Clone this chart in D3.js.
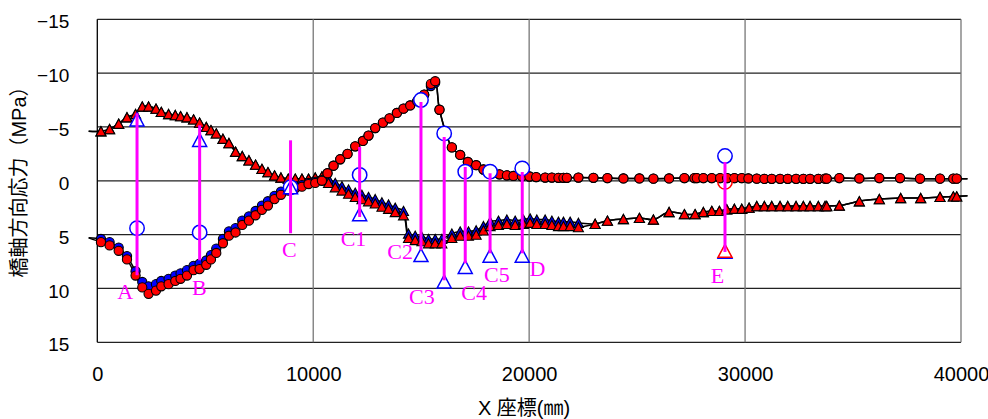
<!DOCTYPE html>
<html>
<head>
<meta charset="utf-8">
<script src="https://cdn.jsdelivr.net/npm/d3@7"></script>
<style>
  body { margin: 0; background: #fff; }
  svg { display: block; }
</style>
</head>
<body>
<svg id="chart"></svg>
<script>
// axis ticks
const xTicks = [0, 10000, 20000, 30000, 40000];
const yTicks = [-15, -10, -5, 0, 5, 10, 15];

// analysis points, circle series (X in mm, stress in MPa)
const circleX = [170, 570, 990, 1375, 1773, 2083, 2375, 2718, 2963, 3301, 3611, 3856, 4153, 4458, 4736, 5046, 5264, 5509, 5819, 6097, 6403, 6713, 7023, 7329, 7625, 7903, 8208, 8505,
  8843, 9167, 9477, 9782, 10093, 10403,
  10662, 10940, 11250, 11588, 11944, 12301, 12560, 12870, 13227, 13532, 13875, 14181, 14491, 14815, 15139, 15449, 15648, 15847,
  16421, 16806, 17162, 17546, 17884, 18319, 18625, 18968, 19273, 19662,
  20014, 20324, 20741, 21051, 21356, 21588, 21745, 22282, 22977,
  23625, 24366, 25106, 25755, 26481, 27190, 27653, 27764, 28069, 28458, 28843, 29170,
  29505, 29847, 30153, 30542, 30894, 31236, 31620, 31977, 32361, 32699, 33009, 33394, 33704, 33782,
  34366, 35292, 36218, 37176, 38102, 39028, 39644, 39801];
const circleRed = [5.7, 6.0, 6.5, 7.3, 8.8, 9.9, 10.5, 10.2, 9.8, 9.6, 9.3, 9.1, 8.8, 8.3, 8.2, 7.8, 7.3, 6.7, 5.8, 5.1, 4.8, 4.1, 3.7, 3.2, 2.7, 2.3, 1.7, 1.3,
  0.9, 0.7, 0.55, 0.3, 0.2, 0.0,
  -0.7, -1.4, -2.0, -2.5, -3.2, -3.7, -4.2, -4.9, -5.4, -5.8, -6.3, -6.7, -7.0, -7.4, -8.0, -9.0, -9.25, -6.6,
  -3.1, -2.4, -1.75, -1.45, -1.05, -0.72, -0.6, -0.5, -0.45, -0.42,
  -0.4, -0.35, -0.3, -0.3, -0.28, -0.28, -0.28, -0.3, -0.28,
  -0.25, -0.22, -0.22, -0.2, -0.22, -0.25, -0.25, -0.25, -0.25, -0.25, -0.25, -0.25,
  -0.25, -0.25, -0.22, -0.2, -0.18, -0.18, -0.18, -0.18, -0.18, -0.18, -0.18, -0.18, -0.2, -0.2,
  -0.25, -0.22, -0.25, -0.25, -0.2, -0.2, -0.2, -0.2];
const circleBlue = [5.4, 5.7, 6.2, 7.0, 8.4, 9.4, 9.8, 9.6, 9.3, 9.1, 8.8, 8.6, 8.3, 7.9, 7.7, 7.4, 6.9, 6.3, 5.4, 4.7, 4.4, 3.7, 3.3, 2.8, 2.3, 1.9, 1.4, 1.0,
  0.7, 0.5, 0.4, 0.2, 0.1, -0.05,
  -0.7, -1.4, -2.0, -2.5, -3.2, -3.7, -4.2, -4.9, -5.4, -5.8, -6.3, -6.7, -7.0, -7.4, -8.0, -8.8, -9.1, -6.6,
  -3.1, -2.4, -1.75, -1.45, -1.05, -0.72, -0.6, -0.5, -0.45, -0.42,
  -0.4, -0.35, -0.3, -0.3, -0.28, -0.28, -0.28, -0.3, -0.28,
  -0.25, -0.22, -0.22, -0.2, -0.22, -0.25, -0.25, -0.25, -0.25, -0.25, -0.25, -0.25,
  -0.25, -0.25, -0.22, -0.2, -0.18, -0.18, -0.18, -0.18, -0.18, -0.18, -0.18, -0.18, -0.2, -0.2,
  -0.25, -0.22, -0.25, -0.25, -0.2, -0.2, -0.2, -0.2];

// analysis points, triangle series
const triX = [170, 570, 990, 1375, 1773, 2083, 2375, 2718, 2963, 3301, 3611, 3856, 4153, 4458, 4736, 5046, 5264, 5509, 5819, 6097, 6403, 6713, 7023, 7329, 7625, 7903, 8208, 8505, 8843, 9167, 9477, 9782, 10093, 10403,
  10708, 11019, 11329, 11634, 11944, 12255, 12560, 12870, 13181, 13486, 13796, 14181, 14412, 14722, 15032, 15338, 15648, 15958,
  16421, 16806, 17190, 17546, 17884, 18194, 18579, 18968, 19352, 19736,
  20046, 20356, 20741, 21051, 21356, 21588, 21898, 22282, 23056,
  23625, 24366, 25106, 25755, 26481, 27190, 27685, 28069, 28458, 28810, 29153, 29505, 29847, 30185, 30542,
  30894, 31236, 31620, 31977, 32361, 32699, 33009, 33394, 33704, 33782,
  34366, 35292, 36218, 37208, 38134, 39028, 39644, 39801];
const triRed = [-4.6, -4.8, -5.3, -5.9, -6.2, -6.9, -6.9, -6.7, -6.4, -6.2, -6.1, -6.0, -5.9, -5.7, -5.4, -5.0, -4.7, -4.4, -3.9, -3.5, -2.7, -2.3, -1.9, -1.5, -1.1, -0.8, -0.5, -0.3, -0.2, -0.2, -0.2, -0.2, -0.3, -0.4,
  0.2, 0.6, 0.9, 1.2, 1.5, 1.7, 1.9, 2.1, 2.4, 2.6, 2.9, 3.2, 5.3, 5.5, 5.6, 5.8, 5.8, 5.8,
  5.3, 5.1, 5.1, 5.0, 4.6, 4.2, 4.1, 4.0, 4.1, 4.0,
  3.9, 4.0, 4.0, 4.1, 4.2, 4.2, 4.2, 4.3, 4.0,
  3.7, 3.55, 3.45, 3.6, 2.9, 3.1, 3.1, 2.9, 2.8, 2.8, 2.65, 2.6, 2.6, 2.5, 2.35,
  2.35, 2.35, 2.35, 2.35, 2.35, 2.35, 2.35, 2.35, 2.35, 2.35,
  2.3, 1.9, 1.7, 1.6, 1.6, 1.5, 1.45, 1.45];
const triBlue = [-4.6, -4.8, -5.3, -5.9, -6.2, -6.9, -6.9, -6.7, -6.4, -6.2, -6.1, -6.0, -5.9, -5.7, -5.4, -5.0, -4.7, -4.4, -3.9, -3.5, -2.7, -2.3, -1.9, -1.5, -1.1, -0.8, -0.5, -0.3, -0.2, -0.2, -0.2, -0.2, -0.3, -0.4,
  -0.2, 0.2, 0.5, 0.8, 1.1, 1.3, 1.5, 1.7, 2.0, 2.2, 2.5, 2.8, 4.9, 5.1, 5.2, 5.4, 5.4, 5.4,
  4.9, 4.7, 4.7, 4.6, 4.2, 3.8, 3.7, 3.6, 3.7, 3.6,
  3.5, 3.6, 3.6, 3.7, 3.8, 3.8, 3.8, 3.9, 4.0,
  3.7, 3.55, 3.45, 3.6, 2.9, 3.1, 3.1, 2.9, 2.8, 2.8, 2.65, 2.6, 2.6, 2.5, 2.35,
  2.35, 2.35, 2.35, 2.35, 2.35, 2.35, 2.35, 2.35, 2.35, 2.35,
  2.3, 1.9, 1.7, 1.6, 1.6, 1.5, 1.45, 1.45];

// curve run-out beyond the first and last points
const circleLineEnds = [[-400, 5.3], [40300, -0.2]];
const triLineEnds = [[-400, -4.6], [40300, 1.4]];

// measured sections
const measLabels = ["A", "B", "C", "C1", "C2", "C3", "C4", "C5", "D", "E"];
const measX = [1840, 4740, 8950, 12150, 14990, 16065, 17040, 18190, 19680, 29070];
const measCircleBlue = [4.4, 4.8, 0.6, -0.55, -7.5, -4.4, -0.85, -0.85, -1.15, -2.3];
const measTriBlue = [-5.7, -3.8, 0.6, 3.1, 6.9, 9.35, 8.0, 6.95, 6.95, 6.6];
const measERed = { x: 29070, circle: 0.1, tri: 6.6 };
const rangeTop = [-6.27, -5.15, -3.76, -3.14, -7.32, -4.07, -1.28, -0.70, -0.82, -1.75];
const rangeBottom = [8.77, 7.38, 4.87, 3.36, 6.45, 9.24, 7.66, 6.73, 6.73, 6.61];
const labelX = [1296, 4722, 8889, 11866, 14028, 15032, 17454, 18505, 20384, 28718];
const labelY = [10.26, 9.89, 6.36, 5.37, 6.61, 10.79, 10.33, 8.68, 8.15, 8.77];

const width = 988;
const height = 419;

const svg = d3.select("#chart")
  .attr("width", width)
  .attr("height", height)
  .attr("viewBox", `0 0 ${width} ${height}`);

svg.append("rect").attr("width", width).attr("height", height).attr("fill", "#fff");

const xScale = d3.scaleLinear().domain([0, 40000]).range([97.3, 961]);
const yScale = d3.scaleLinear().domain([-15, 15]).range([19.3, 342.3]);

// grid
svg.append("g")
  .selectAll("line")
  .data(yTicks)
  .enter()
  .append("line")
  .attr("x1", xScale(0))
  .attr("x2", xScale(40000))
  .attr("y1", (d) => yScale(d))
  .attr("y2", (d) => yScale(d))
  .style("stroke", "#222")
  .style("stroke-width", 1.2);

svg.append("g")
  .selectAll("line")
  .data(xTicks.slice(1))
  .enter()
  .append("line")
  .attr("x1", (d) => xScale(d))
  .attr("x2", (d) => xScale(d))
  .attr("y1", yScale(-15))
  .attr("y2", yScale(15))
  .style("stroke", "#777")
  .style("stroke-width", 1.3);

svg.append("line")
  .attr("x1", xScale(0))
  .attr("x2", xScale(0))
  .attr("y1", yScale(-15))
  .attr("y2", yScale(15))
  .style("stroke", "#000")
  .style("stroke-width", 1.3);

// axes labels
const yAxis = d3.axisLeft(yScale).tickValues(yTicks).tickSize(0).tickPadding(28);
svg.append("g")
  .attr("transform", `translate(${xScale(0)}, 0)`)
  .call(yAxis)
  .call((g) => g.select(".domain").remove())
  .selectAll("text")
  .attr("dy", "0.45em")
  .style("font-family", "'Liberation Sans', Arial, sans-serif")
  .style("font-size", "19px")
  .style("fill", "#000");

const xAxis = d3.axisBottom(xScale).tickValues(xTicks).tickSize(0).tickPadding(25).tickFormat(d3.format("d"));
svg.append("g")
  .attr("transform", `translate(0, ${yScale(15)})`)
  .call(xAxis)
  .call((g) => g.select(".domain").remove())
  .selectAll("text")
  .style("font-family", "'Liberation Sans', Arial, sans-serif")
  .style("font-size", "20px")
  .style("fill", "#000");

svg.append("text")
  .attr("transform", "translate(19, 177) rotate(-90)")
  .attr("text-anchor", "middle")
  .attr("dominant-baseline", "central")
  .style("font-family", "'Liberation Sans', 'Noto Sans CJK JP', sans-serif")
  .style("font-size", "20px")
  .text("橋軸方向応力（MPa）");

svg.append("text")
  .attr("x", 524)
  .attr("y", 408)
  .attr("text-anchor", "middle")
  .attr("dominant-baseline", "central")
  .style("font-family", "'Liberation Sans', 'Noto Sans CJK JP', sans-serif")
  .style("font-size", "20px")
  .text("X 座標(㎜)");

// analysis curves
const line = d3.line()
  .x((d) => xScale(d[0]))
  .y((d) => yScale(d[1]))
  .curve(d3.curveCatmullRom.alpha(0.5));

const toPoints = (xs, vs) => xs.map((v, i) => [v, vs[i]]);
const withEnds = (pts, ends) => [ends[0], ...pts, ends[1]];

const triBluePts = toPoints(triX, triBlue);
const triRedPts = toPoints(triX, triRed);
const circleBluePts = toPoints(circleX, circleBlue);
const circleRedPts = toPoints(circleX, circleRed);

[
  withEnds(triBluePts, triLineEnds),
  withEnds(triRedPts, triLineEnds),
  withEnds(circleBluePts, circleLineEnds),
  withEnds(circleRedPts, circleLineEnds),
].forEach((pts) => {
  svg.append("path")
    .attr("d", line(pts))
    .style("fill", "none")
    .style("stroke", "#000")
    .style("stroke-width", 1.5);
});

const triPath = (cx, cy, w, h) =>
  `M${cx},${cy - h}L${cx + w},${cy + h}L${cx - w},${cy + h}Z`;

const drawTriangles = (pts, fill) => {
  svg.append("g")
    .selectAll("path")
    .data(pts)
    .enter()
    .append("path")
    .attr("d", (d) => triPath(xScale(d[0]), yScale(d[1]), 5, 4.6))
    .style("fill", fill)
    .style("stroke", "#000")
    .style("stroke-width", 1.1);
};

const drawCircles = (pts, fill) => {
  svg.append("g")
    .selectAll("circle")
    .data(pts)
    .enter()
    .append("circle")
    .attr("cx", (d) => xScale(d[0]))
    .attr("cy", (d) => yScale(d[1]))
    .attr("r", 4.6)
    .style("fill", fill)
    .style("stroke", "#000")
    .style("stroke-width", 1.1);
};

drawTriangles(triBluePts, "#0000ff");
drawTriangles(triRedPts, "#ff0000");
drawCircles(circleBluePts, "#0000ff");
drawCircles(circleRedPts, "#ff0000");

// measured values
svg.append("g")
  .selectAll("circle")
  .data(measX)
  .enter()
  .append("circle")
  .attr("cx", (d) => xScale(d))
  .attr("cy", (d, i) => yScale(measCircleBlue[i]))
  .attr("r", 7.2)
  .style("fill", "#fff")
  .style("stroke", "#0000ff")
  .style("stroke-width", 1.5);

svg.append("g")
  .selectAll("path")
  .data(measX)
  .enter()
  .append("path")
  .attr("d", (d, i) => triPath(xScale(d), yScale(measTriBlue[i]), 7, 6.5))
  .style("fill", "#fff")
  .style("stroke", "#0000ff")
  .style("stroke-width", 1.5);

svg.append("circle")
  .attr("cx", xScale(measERed.x))
  .attr("cy", yScale(measERed.circle))
  .attr("r", 7.2)
  .style("fill", "none")
  .style("stroke", "#ff0000")
  .style("stroke-width", 1.5);

svg.append("path")
  .attr("d", triPath(xScale(measERed.x), yScale(measERed.tri) - 1, 7, 6.5))
  .style("fill", "#fff")
  .style("stroke", "#ff0000")
  .style("stroke-width", 1.5);

// ranges at each section
svg.append("g")
  .selectAll("line")
  .data(measX)
  .enter()
  .append("line")
  .attr("x1", (d) => xScale(d))
  .attr("x2", (d) => xScale(d))
  .attr("y1", (d, i) => yScale(rangeTop[i]))
  .attr("y2", (d, i) => yScale(rangeBottom[i]))
  .style("stroke", "#ff00ff")
  .style("stroke-width", 3);

svg.append("g")
  .selectAll("text")
  .data(measLabels)
  .enter()
  .append("text")
  .attr("x", (d, i) => xScale(labelX[i]))
  .attr("y", (d, i) => yScale(labelY[i]))
  .attr("text-anchor", "middle")
  .attr("dominant-baseline", "central")
  .style("font-family", "'Liberation Serif', 'Times New Roman', serif")
  .style("font-size", "22px")
  .style("fill", "#ff00ff")
  .text((d) => d);
</script>
</body>
</html>
